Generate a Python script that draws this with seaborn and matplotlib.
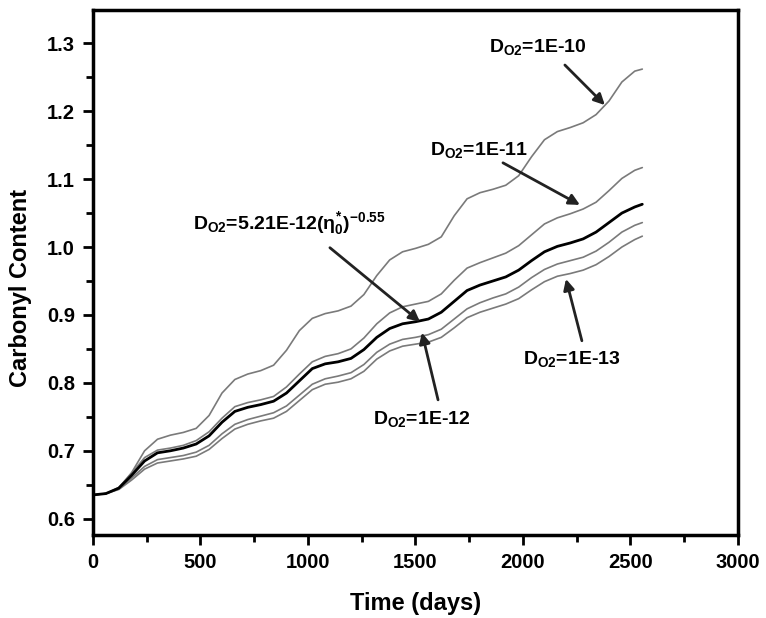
import matplotlib
matplotlib.use("Agg")
import matplotlib.pyplot as plt
import numpy as np
import pandas as pd
import seaborn as sns

days = [0, 60, 120, 180, 240, 300, 360, 420, 480, 540, 600, 660, 720, 780,
        840, 900, 960, 1020, 1080, 1140, 1200, 1260, 1320, 1380, 1440, 1500,
        1560, 1620, 1680, 1740, 1800, 1860, 1920, 1980, 2040, 2100, 2160,
        2220, 2280, 2340, 2400, 2460, 2520, 2555]

d_1e10 = [0.635, 0.637, 0.645, 0.668, 0.700, 0.717, 0.723, 0.727, 0.733,
          0.752, 0.785, 0.805, 0.813, 0.818, 0.826, 0.848, 0.877, 0.895,
          0.902, 0.906, 0.913, 0.930, 0.958, 0.981, 0.993, 0.998, 1.004,
          1.015, 1.046, 1.071, 1.080, 1.085, 1.091, 1.105, 1.133, 1.158,
          1.170, 1.176, 1.183, 1.195, 1.215, 1.243, 1.259, 1.262]
d_1e11 = [0.635, 0.637, 0.646, 0.667, 0.690, 0.701, 0.704, 0.708, 0.715,
          0.728, 0.748, 0.765, 0.771, 0.775, 0.780, 0.794, 0.813, 0.831,
          0.839, 0.843, 0.850, 0.866, 0.887, 0.903, 0.912, 0.916, 0.920,
          0.931, 0.951, 0.969, 0.977, 0.984, 0.991, 1.002, 1.018, 1.034,
          1.043, 1.049, 1.056, 1.066, 1.083, 1.101, 1.113, 1.117]
d_visc = [0.635, 0.637, 0.645, 0.664, 0.685, 0.697, 0.700, 0.704, 0.710,
          0.722, 0.742, 0.758, 0.764, 0.768, 0.773, 0.785, 0.803, 0.821,
          0.828, 0.831, 0.836, 0.849, 0.867, 0.880, 0.887, 0.890, 0.894,
          0.904, 0.920, 0.936, 0.944, 0.950, 0.956, 0.966, 0.980, 0.993,
          1.001, 1.006, 1.012, 1.022, 1.036, 1.050, 1.059, 1.063]
d_1e12 = [0.635, 0.637, 0.644, 0.660, 0.677, 0.687, 0.690, 0.693, 0.698,
          0.708, 0.725, 0.739, 0.746, 0.751, 0.756, 0.766, 0.782, 0.798,
          0.806, 0.810, 0.815, 0.827, 0.845, 0.857, 0.864, 0.867, 0.871,
          0.879, 0.894, 0.909, 0.918, 0.925, 0.931, 0.941, 0.955, 0.967,
          0.975, 0.980, 0.985, 0.994, 1.007, 1.022, 1.032, 1.036]
d_1e13 = [0.635, 0.637, 0.643, 0.657, 0.673, 0.682, 0.685, 0.688, 0.692,
          0.702, 0.718, 0.732, 0.739, 0.744, 0.748, 0.758, 0.774, 0.790,
          0.798, 0.801, 0.806, 0.817, 0.835, 0.847, 0.854, 0.857, 0.860,
          0.867, 0.881, 0.896, 0.904, 0.910, 0.916, 0.924, 0.937, 0.949,
          0.957, 0.961, 0.966, 0.974, 0.986, 1.000, 1.011, 1.016]

sns.set_style("ticks", {"axes.edgecolor": "black", "text.color": "black",
                        "xtick.color": "black", "ytick.color": "black",
                        "axes.labelcolor": "black"})
plt.rcParams["font.family"] = ["Liberation Sans", "DejaVu Sans"]
plt.rcParams["font.weight"] = "bold"
plt.rcParams["mathtext.fontset"] = "custom"
plt.rcParams["mathtext.rm"] = "Liberation Sans:bold"
plt.rcParams["mathtext.it"] = "Liberation Sans:bold"
plt.rcParams["mathtext.bf"] = "Liberation Sans:bold"
plt.rcParams["lines.solid_joinstyle"] = "round"

fig = plt.figure(figsize=(7.66, 6.18), dpi=100)
ax = fig.add_axes([0.1214, 0.1343, 0.842, 0.8495])

thin = dict(color="#7a7a7a", lw=1.2)
for vals in [d_1e10, d_1e11, d_1e12, d_1e13]:
    sns.lineplot(x=days, y=vals, ax=ax, **thin)
sns.lineplot(x=days, y=d_visc, ax=ax, color="black", lw=2.0)

ax.set_xlim(0, 3000)
ax.set_ylim(0.576, 1.349)
ax.set_xticks(np.arange(0, 3001, 500))
ax.set_xticks(np.arange(250, 3000, 500), minor=True)
ax.set_yticks([0.6, 0.7, 0.8, 0.9, 1.0, 1.1, 1.2, 1.3])
ax.set_yticks([0.65, 0.75, 0.85, 0.95, 1.05, 1.15, 1.25], minor=True)
ax.set_xticklabels([str(v) for v in range(0, 3001, 500)])
ax.set_yticklabels(["0.6", "0.7", "0.8", "0.9", "1.0", "1.1", "1.2", "1.3"])

ax.tick_params(which="major", direction="out", length=7, width=2,
               labelsize=14.5, pad=6, colors="black")
ax.tick_params(which="minor", direction="out", length=5, width=2,
               colors="black")
ax.tick_params(top=False, right=False)
for sp in ax.spines.values():
    sp.set_visible(True)
    sp.set_linewidth(2.5)
    sp.set_color("black")

ax.set_xlabel("Time (days)", fontsize=17, fontweight="bold", labelpad=14)
ax.set_ylabel("Carbonyl Content", fontsize=17, fontweight="bold")
ax.yaxis.set_label_coords(-0.094, 0.47)

arrow = dict(arrowstyle="-|>", lw=2, color="#222222", mutation_scale=16,
             shrinkA=0, shrinkB=0)
txt = dict(fontsize=14, fontweight="bold", ha="center", va="center",
           color="black")

ax.text(2070, 1.294, r"$D_{O2}$=1E-10", **txt)
ax.annotate("", xy=(2381, 1.209), xytext=(2195, 1.268), arrowprops=arrow)

ax.text(1795, 1.143, r"$D_{O2}$=1E-11", **txt)
ax.annotate("", xy=(2265, 1.062), xytext=(1907, 1.124), arrowprops=arrow)

ax.text(912, 1.034, r"$D_{O2}$=5.21E-12$(\eta_0^{*})^{-0.55}$", **txt)
ax.annotate("", xy=(1521, 0.890), xytext=(1102, 0.999), arrowprops=arrow)

ax.text(1530, 0.747, r"$D_{O2}$=1E-12", **txt)
ax.annotate("", xy=(1530, 0.874), xytext=(1605, 0.775), arrowprops=arrow)

ax.text(2228, 0.835, r"$D_{O2}$=1E-13", **txt)
ax.annotate("", xy=(2200, 0.953), xytext=(2274, 0.862), arrowprops=arrow)

fig.savefig("out.png", dpi=100)
